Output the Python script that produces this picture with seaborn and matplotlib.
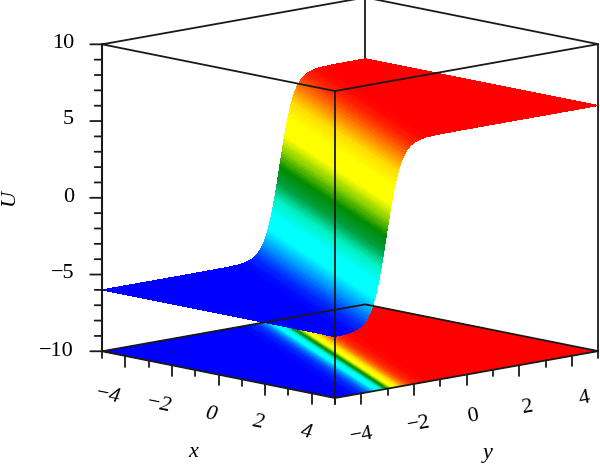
import numpy as np
import matplotlib
matplotlib.use('Agg')
import matplotlib.pyplot as plt
import seaborn as sns
from mpl_toolkits.mplot3d import proj3d

# tick values
x_ticks = [-4, -2, 0, 2, 4]
y_ticks = [-4, -2, 0, 2, 4]
z_ticks = [-10, -5, 0, 5, 10]

# kink front runs along y + slope*x = offset
front_slope = 0.48
front_offset = -0.65

# distance from the front and U there, upper half
dist_half = [0, .0125, .025, .0375, .05, .0625, .075, .0875, .1, .1125, .125, .1375, .15, .1625, .175,
             .1875, .2, .2125, .225, .2375, .25, .2625, .275, .2875, .3, .3125, .325, .3375, .35, .3625,
             .375, .3875, .4, .4125, .425, .4375, .45, .4625, .475, .4875, .5, .5125, .525, .5375, .55,
             .5625, .575, .5875, .6, .625, .65, .675, .7, .75, .8, .85, .9, .95, 1.0, 1.1,
             1.2, 1.3, 1.5, 1.7, 2.0, 3.0, 4.0, 5.0, 6.0, 7.0, 8.2]
u_half = [0, .135, .27, .405, .54, .67, .80, .935, 1.07, 1.20, 1.33, 1.455, 1.58, 1.705, 1.83,
          1.95, 2.07, 2.19, 2.30, 2.42, 2.53, 2.64, 2.75, 2.855, 2.96, 3.06, 3.16, 3.255, 3.35, 3.44,
          3.53, 3.615, 3.70, 3.78, 3.86, 3.94, 4.02, 4.09, 4.16, 4.23, 4.30, 4.36, 4.42, 4.485, 4.54,
          4.60, 4.66, 4.71, 4.76, 4.855, 4.95, 5.03, 5.11, 5.25, 5.36, 5.46, 5.55, 5.62, 5.68, 5.78,
          5.84, 5.89, 5.95, 5.97, 5.99, 6.0, 6.0, 6.0, 6.0, 6.0, 6.0]

# colours for U = -6, -5, ... 6
u_colors = ['#0000ff', '#0090ff', '#00ffff', '#00ffff', '#00f0c0', '#00a040', '#008a00',
            '#88d000', '#ffff00', '#ffff00', '#ffdd00', '#ff7800', '#ff0000']

tick_fs = 16

sns.set_theme(style='white')
plt.rcParams['font.family'] = ['Liberation Serif', 'DejaVu Serif']
plt.rcParams['text.color'] = 'black'

dist = np.array([-d for d in dist_half[:0:-1]] + dist_half)
u = np.array([-v for v in u_half[:0:-1]] + u_half)

xs = np.arange(-5, 5.01, 0.25)
X = np.repeat(xs[:, None], len(dist), axis=1)
Y = np.clip(dist[None, :] + front_offset - front_slope*X, -5, 5)
Z = np.repeat(u[None, :], len(xs), axis=0)

cmap = sns.blend_palette(u_colors, as_cmap=True)
mid = (Z[:-1, :-1] + Z[1:, 1:])/2
face = cmap((mid + 6)/12)

fig = plt.figure(figsize=(6, 4.65), dpi=100)
side = 760
ax = fig.add_axes([0, 0, side/600, side/465], projection='3d', proj_type='ortho', computed_zorder=False)
ax.view_init(elev=10.9, azim=-43.3)
ax.set_box_aspect((339.5, 361.6, 312.6))
ax.set_axis_off()
ax.patch.set_alpha(0)

# back edge, hidden by the surface
ax.plot([-5, -5], [5, 5], [-10, 10], color='k', lw=1.3, zorder=1, clip_on=False)

# floor map then the surface
ax.plot_surface(X, Y, np.full_like(Z, -10.0), facecolors=face, rcount=X.shape[0], ccount=X.shape[1],
                shade=False, linewidth=0, antialiased=False, zorder=2)
ax.plot_surface(X, Y, Z, facecolors=face, rcount=X.shape[0], ccount=X.shape[1],
                shade=False, linewidth=0, antialiased=False, zorder=3)

# box
for z in [-10, 10]:
    ax.plot([-5, 5, 5, -5, -5], [-5, -5, 5, 5, -5], [z]*5, color='k', lw=1.3, zorder=5, clip_on=False)
ax.plot([5, 5], [-5, -5], [-10, 10], color='k', lw=1.3, zorder=5, clip_on=False)
ax.plot([5, 5], [5, 5], [-10, 10], color='k', lw=1.3, zorder=5, clip_on=False)
ax.plot([-5, -5], [-5, -5], [-10, 10], color='k', lw=1.5, zorder=5, clip_on=False)

# ticks, long at the labelled ones
for t in range(-5, 6):
    down = 0.69 if t in x_ticks else 0.42
    ax.plot([t, t], [-5, -5], [-10, -10-down], color='k', lw=1.3, zorder=5, clip_on=False)
    ax.plot([5, 5], [t, t], [-10, -10-down], color='k', lw=1.3, zorder=5, clip_on=False)
for t in range(-10, 11):
    out = 0.24 if t in z_ticks else 0.15
    ax.plot([-5, -5-out], [-5, -5-out], [t, t], color='k', lw=1.3, zorder=5, clip_on=False)

ax.set_xlim(-5, 5)
ax.set_ylim(-5, 5)
ax.set_zlim(-10, 10)


def to_px(x, y, z):
    ax.apply_aspect()
    a, b, _ = proj3d.proj_transform(x, y, z, ax.get_proj())
    return ax.transData.transform((a, b))


# fit the box onto the picture: left corner at 102, right at 598, front floor corner at 335,398
width = to_px(5, 5, -10)[0] - to_px(-5, -5, -10)[0]
ax.set_box_aspect((339.5, 361.6, 312.6), zoom=496/width)
front = to_px(5, -5, -10)
ax.set_position([(335 - front[0])/600, ((465 - 398) - front[1])/465, side/600, side/465])

# tick labels
x_label_px = [(107, 396), (158, 405), (210, 415), (258, 423), (306, 433)]
y_label_px = [(362, 436), (419, 425), (473, 417), (528, 408), (584, 399)]
z_label_px = [351, 274, 197, 120, 44]


def fmt(t):
    return str(t).replace('-', '\u2212')


for t, (px, py) in zip(x_ticks, x_label_px):
    fig.text(px/600, 1 - py/465, fmt(t), fontsize=tick_fs, style='italic', rotation=-11,
             rotation_mode='anchor', ha='center', va='center')
for t, (px, py) in zip(y_ticks, y_label_px):
    fig.text(px/600, 1 - py/465, fmt(t), fontsize=tick_fs, rotation=10,
             rotation_mode='anchor', ha='center', va='center')
for t, py in zip(z_ticks, z_label_px):
    fig.text(74/600, 1 - py/465, fmt(t), fontsize=tick_fs, ha='right', va='center')

fig.text(193/600, 1 - 452/465, 'x', fontsize=tick_fs, style='italic', ha='center', va='center')
fig.text(488/600, 1 - 453/465, 'y', fontsize=tick_fs, style='italic', ha='center', va='center')
fig.text(9/600, 1 - 197/465, 'U', fontsize=tick_fs, style='italic', rotation=90, ha='center', va='center')

fig.savefig('out.png', dpi=100)
